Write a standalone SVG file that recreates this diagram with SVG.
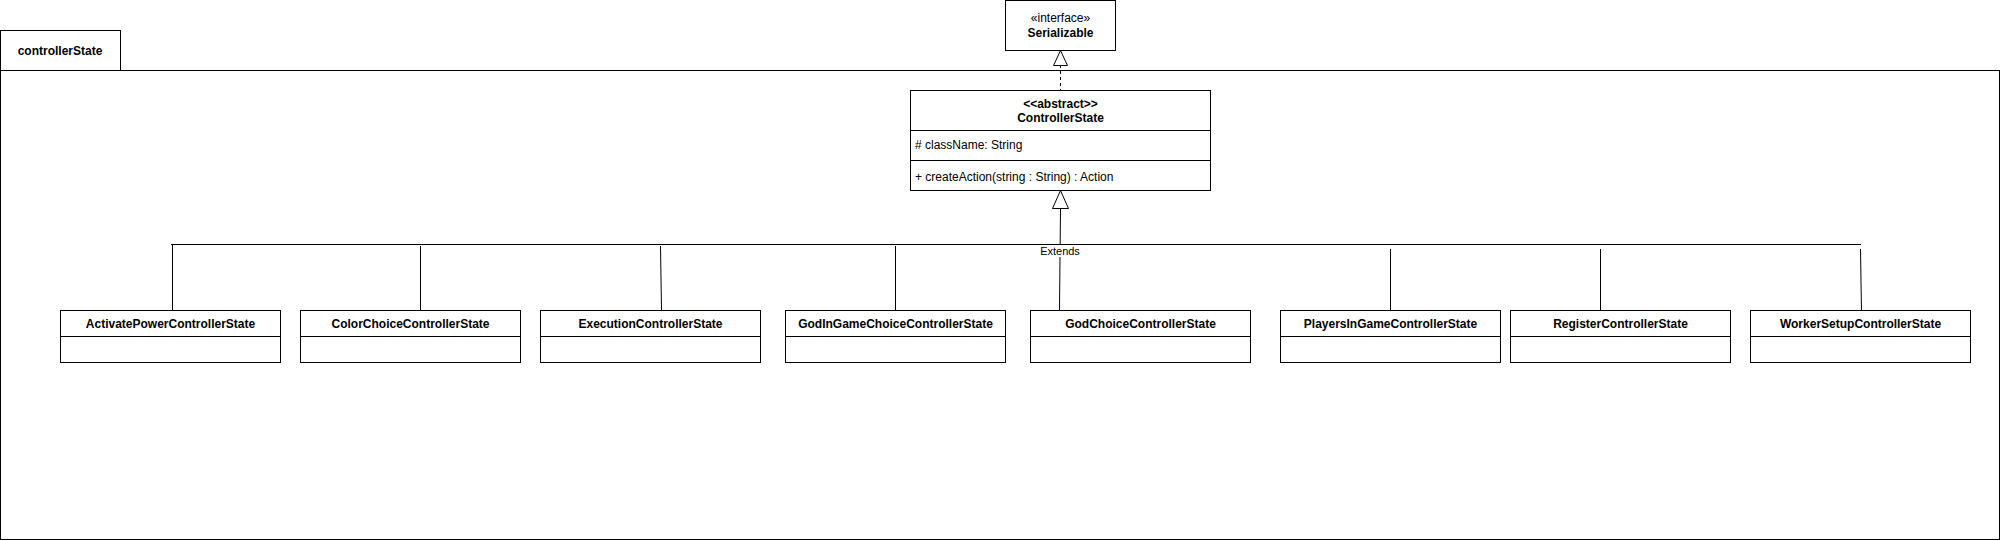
<svg xmlns="http://www.w3.org/2000/svg" width="2001" height="541" viewBox="0 0 2001 541">
<style>
.box{fill:#fff;stroke:#000;stroke-width:1}
.ln{stroke:#000;stroke-width:1;fill:none}
.t{font-family:"Liberation Sans",Arial,sans-serif;font-size:12px;fill:#000}
.b{font-weight:bold}
.c{text-anchor:middle}
</style>
<rect width="2001" height="541" fill="#fff"/>
<g id="package-controllerState">
<rect class="box" x="0.5" y="30.5" width="120" height="40"/>
<rect class="box" x="0.5" y="70.5" width="1999" height="469"/>
<text class="t b c" x="60" y="54.5">controllerState</text>
</g>
<g id="connectors">
<line class="ln" x1="1060.5" y1="65" x2="1060.5" y2="90" stroke-dasharray="3,3"/>
<polygon class="box" points="1060.5,50.5 1053.5,65.5 1067.5,65.5"/>
<line class="ln" x1="1060.5" y1="208" x2="1059.5" y2="310"/>
<polygon class="box" points="1060.5,190.5 1052.5,208.5 1068.5,208.5"/>
<line class="ln" x1="171" y1="244.5" x2="1861" y2="244.5"/>
<line class="ln" x1="172.5" y1="245" x2="172.5" y2="310"/>
<line class="ln" x1="420.5" y1="246" x2="420.5" y2="310"/>
<line class="ln" x1="660.5" y1="246" x2="661.5" y2="310"/>
<line class="ln" x1="895.5" y1="246" x2="895.5" y2="310"/>
<line class="ln" x1="1390.5" y1="249" x2="1390.5" y2="312"/>
<line class="ln" x1="1600.5" y1="249" x2="1600.5" y2="313"/>
<line class="ln" x1="1860.5" y1="249" x2="1861.5" y2="313"/>
<rect x="1040" y="245" width="40" height="12" fill="#fff"/>
<text class="t c" x="1060" y="255" style="font-size:11px">Extends</text>
</g>
<g id="Serializable">
<rect class="box" x="1005.5" y="0.5" width="110" height="50"/>
<text class="t c" x="1060.5" y="22">«interface»</text>
<text class="t b c" x="1060.5" y="37">Serializable</text>
</g>
<g id="ControllerState">
<rect class="box" x="910.5" y="90.5" width="300" height="100"/>
<line class="ln" x1="910.5" y1="130.5" x2="1210.5" y2="130.5"/>
<line class="ln" x1="910.5" y1="160.5" x2="1210.5" y2="160.5"/>
<text class="t b c" x="1060.5" y="108">&lt;&lt;abstract&gt;&gt;</text>
<text class="t b c" x="1060.5" y="122">ControllerState</text>
<text class="t" x="915" y="149">#  className: String</text>
<text class="t" x="915" y="181">+ createAction(string : String) : Action</text>
</g>
<g id="ActivatePowerControllerState">
<rect class="box" x="60.5" y="310.5" width="220" height="52"/>
<line class="ln" x1="60.5" y1="336.5" x2="280.5" y2="336.5"/>
<text class="t b c" x="170.5" y="328">ActivatePowerControllerState</text>
</g>
<g id="ColorChoiceControllerState">
<rect class="box" x="300.5" y="310.5" width="220" height="52"/>
<line class="ln" x1="300.5" y1="336.5" x2="520.5" y2="336.5"/>
<text class="t b c" x="410.5" y="328">ColorChoiceControllerState</text>
</g>
<g id="ExecutionControllerState">
<rect class="box" x="540.5" y="310.5" width="220" height="52"/>
<line class="ln" x1="540.5" y1="336.5" x2="760.5" y2="336.5"/>
<text class="t b c" x="650.5" y="328">ExecutionControllerState</text>
</g>
<g id="GodInGameChoiceControllerState">
<rect class="box" x="785.5" y="310.5" width="220" height="52"/>
<line class="ln" x1="785.5" y1="336.5" x2="1005.5" y2="336.5"/>
<text class="t b c" x="895.5" y="328">GodInGameChoiceControllerState</text>
</g>
<g id="GodChoiceControllerState">
<rect class="box" x="1030.5" y="310.5" width="220" height="52"/>
<line class="ln" x1="1030.5" y1="336.5" x2="1250.5" y2="336.5"/>
<text class="t b c" x="1140.5" y="328">GodChoiceControllerState</text>
</g>
<g id="PlayersInGameControllerState">
<rect class="box" x="1280.5" y="310.5" width="220" height="52"/>
<line class="ln" x1="1280.5" y1="336.5" x2="1500.5" y2="336.5"/>
<text class="t b c" x="1390.5" y="328">PlayersInGameControllerState</text>
</g>
<g id="RegisterControllerState">
<rect class="box" x="1510.5" y="310.5" width="220" height="52"/>
<line class="ln" x1="1510.5" y1="336.5" x2="1730.5" y2="336.5"/>
<text class="t b c" x="1620.5" y="328">RegisterControllerState</text>
</g>
<g id="WorkerSetupControllerState">
<rect class="box" x="1750.5" y="310.5" width="220" height="52"/>
<line class="ln" x1="1750.5" y1="336.5" x2="1970.5" y2="336.5"/>
<text class="t b c" x="1860.5" y="328">WorkerSetupControllerState</text>
</g>
</svg>
